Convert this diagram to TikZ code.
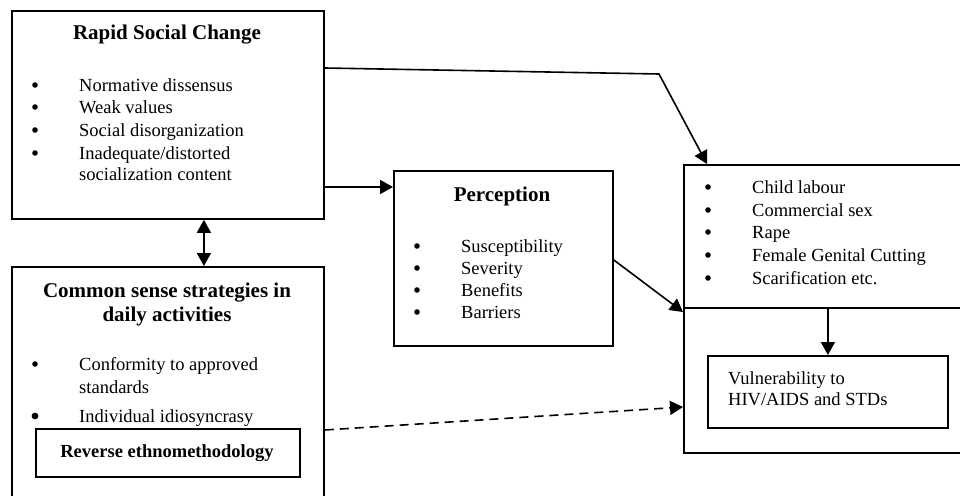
\documentclass[tikz,border=0pt]{standalone}
\usepackage{fontspec}
\setmainfont{Liberation Serif}
\usetikzlibrary{arrows.meta}

\begin{document}
\begin{tikzpicture}[x=1pt, y=-1pt,
        box/.style={draw, line width=1.8pt, anchor=north west, inner sep=0pt},
        hd/.style={anchor=base, inner sep=0pt, font=\fontsize{21}{24}\selectfont\bfseries},
        txt/.style={anchor=base west, inner sep=0pt, font=\fontsize{18.5}{22.5}\selectfont},
        link/.style={line width=1.6pt, -{Triangle[length=13pt, width=14pt]}}]
        \clip (0,0) rectangle (960,495);

        % boxes
        \node[box, minimum width=312pt, minimum height=208pt] (change) at (11,10) {};
        \node[box, minimum width=312pt, minimum height=260pt] (common) at (11,266) {};
        \node[box, minimum width=219pt, minimum height=175pt] (percep) at (393,170) {};
        \node[box, minimum width=300pt, minimum height=143pt] (acts) at (683,164) {};
        \node[box, minimum width=300pt, minimum height=145pt] (outer) at (683,307) {};
        \node[box, minimum width=240pt, minimum height=72pt] (vuln) at (707,355) {};
        \node[box, minimum width=264pt, minimum height=48pt] (reverse) at (35,428) {};

        % headings
        \node[hd] (changehd) at (167,40) {Rapid Social Change};
        \node[hd] (commonhd) at (167,297) {Common sense strategies in};
        \node[hd] (commonhdb) at (167,321) {daily activities};
        \node[hd] (percephd) at (502,201) {Perception};
        \node[hd, font=\fontsize{18.5}{22.5}\selectfont\bfseries] (reversehd) at (167,457) {Reverse ethnomethodology};

        % bullet lists
        \foreach \y in {91, 113, 136, 159}
            \fill (35,\y-6) circle (2.8pt);
        \foreach \y/\t in {91/Normative dissensus, 113/Weak values, 136/Social disorganization, 159/{Inadequate/distorted}, 180/socialization content}
            \node[txt] at (79,\y) {\t};

        \foreach \y/\t in {252/Susceptibility, 274/Severity, 296/Benefits, 318/Barriers} {
            \fill (417,\y-6) circle (2.8pt);
            \node[txt] at (461,\y) {\t};
        }

        \foreach \y/\t in {193/Child labour, 216/Commercial sex, 238/Rape, 261/Female Genital Cutting, 284/Scarification etc.} {
            \fill (708,\y-6) circle (2.8pt);
            \node[txt] at (752,\y) {\t};
        }

        \fill (35,364) circle (2.8pt);
        \fill (35,416) circle (3.4pt);
        \node[txt] at (79,370) {Conformity to approved};
        \node[txt] at (79,393) {standards};
        \node[txt] at (79,422) {Individual idiosyncrasy};

        \node[txt] (vulnta) at (728,384) {Vulnerability to};
        \node[txt] (vulntb) at (728,405) {HIV/AIDS and STDs};

        % connectors
        \coordinate (bend) at (659,74);
        \draw[link] ([yshift=-58pt]change.north east) -- (bend) -- ([xshift=24pt]acts.north west);
        \draw[link] ([yshift=-177pt]change.north east) -- ([yshift=-17pt]percep.north west);
        \draw[link] ([yshift=-90pt]percep.north east) -- ([yshift=-5pt]outer.north west);
        \draw[link, {Triangle[length=13pt, width=14pt]}-{Triangle[length=13pt, width=14pt]}] ([xshift=36pt]change.south) -- ([xshift=36pt]common.north);
        \draw[link] ([xshift=-6pt]acts.south) -- (vuln.north);
        \draw[link, dashed, dash pattern=on 9pt off 6pt] ([yshift=-164pt]common.north east) -- ([yshift=-100pt]outer.north west);
    \end{tikzpicture}
\end{document}
